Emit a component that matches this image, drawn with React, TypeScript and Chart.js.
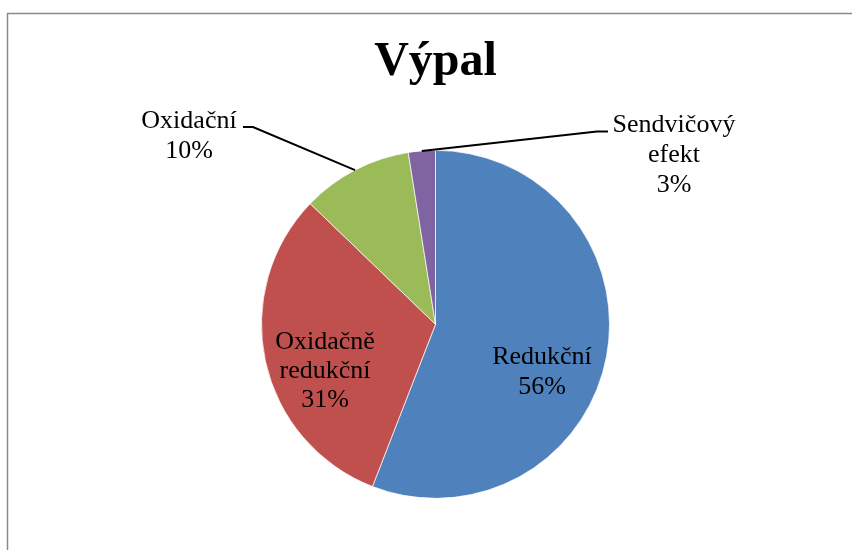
import React, { useEffect, useRef } from "react";
import { Chart, registerables } from "chart.js";

Chart.register(...registerables);

const title = "Výpal";
const categories = ["Redukční", "Oxidačně redukční", "Oxidační", "Sendvičový efekt"];
const values = [55.9, 31.3, 10.3, 2.5];
const colors = ["#4F81BD", "#C0504D", "#9BBB59", "#8064A2"];
const labelLines = [["Redukční"], ["Oxidačně", "redukční"], ["Oxidační"], ["Sendvičový", "efekt"]];

const FONT = '"Liberation Serif", "Times New Roman", serif';

// label layout: center x, first baseline, line height, optional leader path (points before the arc end)
const labelLayout = [
  { x: 542, y: 364, lh: 30, leader: null as null | number[][] },
  { x: 325, y: 349, lh: 29, leader: null as null | number[][] },
  { x: 189, y: 128, lh: 30, leader: [[243, 127], [253, 127]] },
  { x: 674, y: 132, lh: 30, leader: [[608, 131.5], [597, 131.5]] },
];

const framePlugin = {
  id: "frame",
  beforeDraw(chart: any) {
    const ctx = chart.ctx;
    ctx.save();
    ctx.fillStyle = "#ffffff";
    ctx.fillRect(0, 0, chart.width, chart.height);
    ctx.strokeStyle = "#8a8a8a";
    ctx.lineWidth = 1.5;
    ctx.strokeRect(7.5, 13.5, 1000, 800);
    ctx.restore();
  },
};

const labelPlugin = {
  id: "pieLabels",
  afterDraw(chart: any) {
    const ctx = chart.ctx;
    const meta = chart.getDatasetMeta(0);
    const data = chart.data.datasets[0].data as number[];
    const total = data.reduce((a, b) => a + b, 0);
    ctx.save();
    ctx.font = `26px ${FONT}`;
    ctx.fillStyle = "#000";
    ctx.textAlign = "center";
    ctx.textBaseline = "alphabetic";
    meta.data.forEach((arc: any, i: number) => {
      const L = labelLayout[i];
      const lines = [...labelLines[i], `${Math.round((data[i] / total) * 100)}%`];
      lines.forEach((t, k) => ctx.fillText(t, L.x, L.y + k * L.lh));
      if (L.leader) {
        const p = arc.getProps(["x", "y", "startAngle", "endAngle", "outerRadius"], true);
        const mid = (p.startAngle + p.endAngle) / 2;
        const ex = p.x + Math.cos(mid) * p.outerRadius;
        const ey = p.y + Math.sin(mid) * p.outerRadius;
        ctx.beginPath();
        ctx.strokeStyle = "#000";
        ctx.lineWidth = 2;
        ctx.moveTo(L.leader[0][0], L.leader[0][1]);
        for (let k = 1; k < L.leader.length; k++) ctx.lineTo(L.leader[k][0], L.leader[k][1]);
        ctx.lineTo(ex, ey);
        ctx.stroke();
      }
    });
    ctx.restore();
  },
};

export default function App() {
  const ref = useRef<HTMLCanvasElement>(null);
  useEffect(() => {
    if (!ref.current) return;
    const chart = new Chart(ref.current, {
      type: "pie",
      data: {
        labels: categories,
        datasets: [
          {
            data: values,
            backgroundColor: colors,
            borderColor: "#ffffff",
            borderWidth: 0.7,
          },
        ],
      },
      options: {
        responsive: false,
        animation: false,
        layout: { padding: { top: 0, bottom: 51.3, left: 85.5, right: 66.5 } },
        plugins: {
          legend: { display: false },
          tooltip: { enabled: false },
          title: {
            display: true,
            text: title,
            color: "#000",
            font: { family: FONT, size: 48, weight: "bold", lineHeight: 1.2 },
            padding: { top: 34, bottom: 58.4 },
          },
        },
      },
      plugins: [framePlugin, labelPlugin],
    });
    return () => chart.destroy();
  }, []);
  return (
    <div style={{ position: "fixed", left: 0, top: 0, width: 852, height: 550, background: "#fff" }}>
      <canvas ref={ref} width={852} height={550} style={{ display: "block", width: 852, height: 550 }} />
    </div>
  );
}
